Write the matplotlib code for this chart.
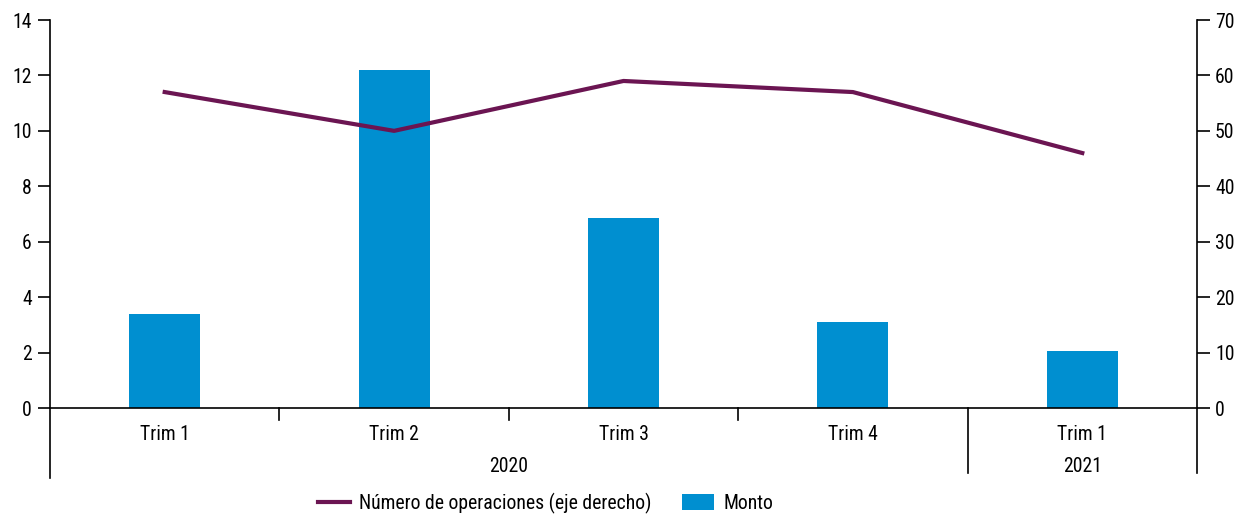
import matplotlib
matplotlib.use("Agg")
import matplotlib.pyplot as plt
from matplotlib.lines import Line2D
from matplotlib.patches import Patch

plt.rcParams['font.family'] = ['Roboto Condensed', 'Roboto', 'DejaVu Sans']

categories = ["Trim 1", "Trim 2", "Trim 3", "Trim 4", "Trim 1"]
years = ["2020", "2021"]
monto = [3.4, 12.2, 6.87, 3.1, 2.06]
operaciones = [57, 50, 59, 57, 46]
left_ticks = [0, 2, 4, 6, 8, 10, 12, 14]
right_ticks = [0, 10, 20, 30, 40, 50, 60, 70]

bar_color = "#008FD0"
line_color = "#6B1552"
fs = 14.2

W, H = 1245, 516
fig = plt.figure(figsize=(W / 100, H / 100), dpi=100)
ax = fig.add_axes([50 / W, 1 - 408 / H, (1197 - 50) / W, (408 - 20) / H])
ax2 = ax.twinx()

x = list(range(len(categories)))
ax.bar(x, monto, width=0.31, color=bar_color, zorder=2)
ax2.plot(x, operaciones, color=line_color, lw=3, zorder=3)

ax.set_xlim(-0.5, len(categories) - 0.5)
ax.set_ylim(0, 14)
ax2.set_ylim(0, 70)
ax.set_yticks(left_ticks)
ax2.set_yticks(right_ticks)
ax.set_xticks([])
ax.tick_params(axis='y', length=9, width=1.2, labelsize=fs, pad=4)
ax2.tick_params(axis='y', length=9, width=1.2, labelsize=fs, pad=4)

for a in (ax, ax2):
    for s in a.spines.values():
        s.set_visible(False)

ph = 408 - 20
def yax(py):
    return (408 - py) / ph

lw = 1.2
ax.plot([0, 1], [0, 0], transform=ax.transAxes, color='black', lw=lw, clip_on=False, zorder=4)
ax.plot([0, 0], [1, yax(478)], transform=ax.transAxes, color='black', lw=lw, clip_on=False)
ax.plot([1, 1], [1, yax(473)], transform=ax.transAxes, color='black', lw=lw, clip_on=False)

trans = ax.get_xaxis_transform()
for sep in [0.5, 1.5, 2.5]:
    ax.plot([sep, sep], [0, yax(420)], transform=trans, color='black', lw=lw, clip_on=False)
ax.plot([3.5, 3.5], [0, yax(473)], transform=trans, color='black', lw=lw, clip_on=False)

for xi, c in zip(x, categories):
    ax.text(xi, yax(435), c, transform=trans, ha='center', va='center', fontsize=fs)
ax.text(1.5, yax(466), years[0], transform=trans, ha='center', va='center', fontsize=fs)
ax.text(4.0, yax(466), years[1], transform=trans, ha='center', va='center', fontsize=fs)

handles = [Line2D([], [], color=line_color, lw=3),
           Patch(facecolor=bar_color)]
labels = ["Número de operaciones (eje derecho)", "Monto"]
fig.legend(handles, labels, loc='center left', bbox_to_anchor=(318 / W, 1 - 503 / H),
           ncol=2, frameon=False, fontsize=fs, handlelength=1.6, handleheight=0.8,
           handletextpad=0.5, columnspacing=1.55, borderaxespad=0, borderpad=0)

fig.savefig("out.png", dpi=100)
